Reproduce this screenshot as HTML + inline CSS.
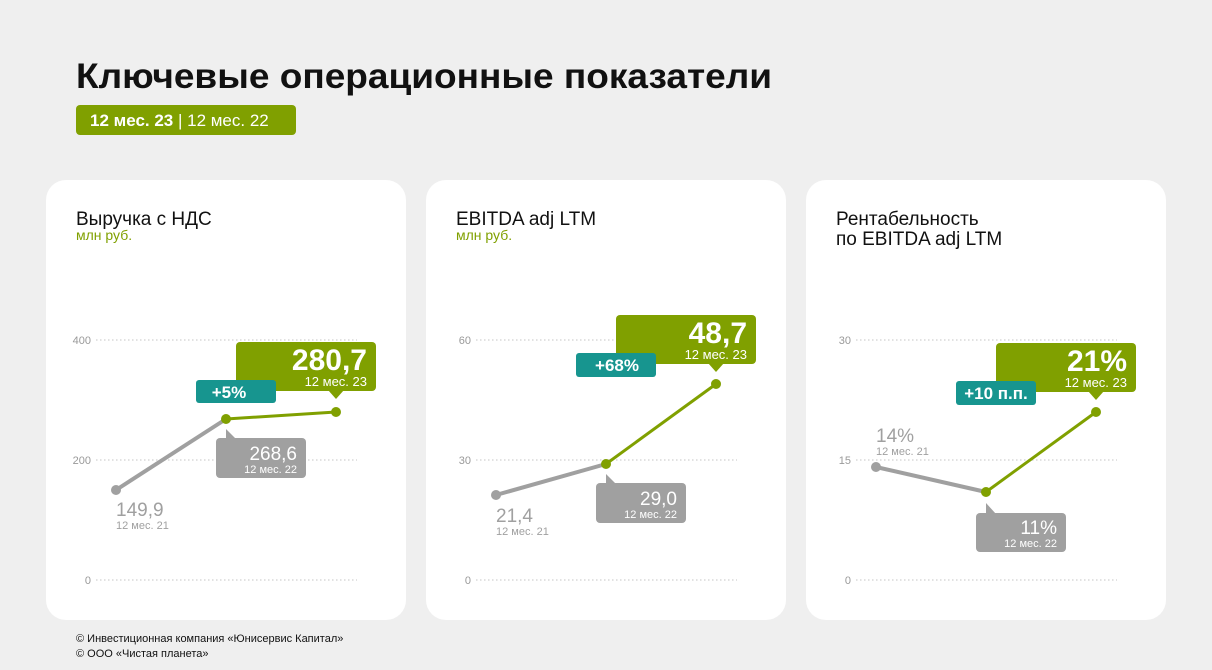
<!DOCTYPE html>
<html><head><meta charset="utf-8"><style>
body{margin:0;background:#efefef;}
svg{display:block;font-family:"Liberation Sans",sans-serif;}
</style></head><body>
<svg width="1212" height="670" viewBox="0 0 1212 670">
<rect width="1212" height="670" fill="#efefef"/>
<text x="76" y="88" font-size="35" font-weight="bold" fill="#111" textLength="696" lengthAdjust="spacingAndGlyphs">Ключевые операционные показатели</text>
<rect x="76" y="105" width="220" height="30" rx="4" fill="#80a000"/>
<text x="90" y="126" font-size="17" fill="#fff"><tspan font-weight="bold">12 мес. 23</tspan> | 12 мес. 22</text>

<rect x="46" y="180" width="360" height="440" rx="20" fill="#fff"/>
<rect x="426" y="180" width="360" height="440" rx="20" fill="#fff"/>
<rect x="806" y="180" width="360" height="440" rx="20" fill="#fff"/>

<g stroke="#d8d8d8" stroke-width="1.5" stroke-dasharray="1.5 2.5">
<line x1="96" y1="340" x2="357" y2="340"/><line x1="96" y1="460" x2="357" y2="460"/><line x1="96" y1="580" x2="357" y2="580"/>
<line x1="476" y1="340" x2="737" y2="340"/><line x1="476" y1="460" x2="737" y2="460"/><line x1="476" y1="580" x2="737" y2="580"/>
<line x1="856" y1="340" x2="1117" y2="340"/><line x1="856" y1="460" x2="1117" y2="460"/><line x1="856" y1="580" x2="1117" y2="580"/>
</g>
<g font-size="11" fill="#999" text-anchor="end">
<text x="91" y="344">400</text><text x="91" y="464">200</text><text x="91" y="584">0</text>
<text x="471" y="344">60</text><text x="471" y="464">30</text><text x="471" y="584">0</text>
<text x="851" y="344">30</text><text x="851" y="464">15</text><text x="851" y="584">0</text>
</g>

<g font-size="19" fill="#111">
<text x="76" y="225">Выручка с НДС</text>
<text x="456" y="225">EBITDA adj LTM</text>
<text x="836" y="225">Рентабельность</text>
<text x="836" y="245">по EBITDA adj LTM</text>
</g>
<g font-size="14" fill="#80a000">
<text x="76" y="240">млн руб.</text>
<text x="456" y="240">млн руб.</text>
</g>

<!-- Panel 1 -->
<line x1="116" y1="490" x2="226" y2="419" stroke="#a0a0a0" stroke-width="4"/>
<line x1="226" y1="419" x2="336" y2="412" stroke="#80a000" stroke-width="3"/>
<circle cx="116" cy="490" r="5" fill="#a0a0a0"/>
<circle cx="226" cy="419" r="5" fill="#80a000"/><circle cx="336" cy="412" r="5" fill="#80a000"/>
<rect x="236" y="342" width="140" height="49" rx="4" fill="#80a000"/>
<polygon points="328,390 344,390 336,399" fill="#80a000"/>
<text x="367" y="370" font-size="30" font-weight="bold" fill="#fff" text-anchor="end">280,7</text>
<text x="367" y="386" font-size="13" fill="#fff" text-anchor="end">12 мес. 23</text>
<rect x="196" y="380" width="80" height="23" rx="3" fill="#17958f"/>
<text x="229" y="398" font-size="17" font-weight="bold" fill="#fff" text-anchor="middle">+5%</text>
<rect x="216" y="438" width="90" height="40" rx="4" fill="#a0a0a0"/>
<polygon points="226,429 226,439 236,439" fill="#a0a0a0"/>
<text x="297" y="460" font-size="19" fill="#fff" text-anchor="end">268,6</text>
<text x="297" y="473" font-size="11" fill="#fff" text-anchor="end">12 мес. 22</text>
<text x="116" y="516" font-size="19" fill="#a0a0a0">149,9</text>
<text x="116" y="529" font-size="11" fill="#a0a0a0">12 мес. 21</text>

<!-- Panel 2 -->
<line x1="496" y1="495" x2="606" y2="464" stroke="#a0a0a0" stroke-width="4"/>
<line x1="606" y1="464" x2="716" y2="384" stroke="#80a000" stroke-width="3"/>
<circle cx="496" cy="495" r="5" fill="#a0a0a0"/>
<circle cx="606" cy="464" r="5" fill="#80a000"/><circle cx="716" cy="384" r="5" fill="#80a000"/>
<rect x="616" y="315" width="140" height="49" rx="4" fill="#80a000"/>
<polygon points="708,363 724,363 716,372" fill="#80a000"/>
<text x="747" y="343" font-size="30" font-weight="bold" fill="#fff" text-anchor="end">48,7</text>
<text x="747" y="359" font-size="13" fill="#fff" text-anchor="end">12 мес. 23</text>
<rect x="576" y="353" width="80" height="24" rx="3" fill="#17958f"/>
<text x="617" y="371" font-size="17" font-weight="bold" fill="#fff" text-anchor="middle">+68%</text>
<rect x="596" y="483" width="90" height="40" rx="4" fill="#a0a0a0"/>
<polygon points="606,474 606,484 616,484" fill="#a0a0a0"/>
<text x="677" y="505" font-size="19" fill="#fff" text-anchor="end">29,0</text>
<text x="677" y="518" font-size="11" fill="#fff" text-anchor="end">12 мес. 22</text>
<text x="496" y="522" font-size="19" fill="#a0a0a0">21,4</text>
<text x="496" y="535" font-size="11" fill="#a0a0a0">12 мес. 21</text>

<!-- Panel 3 -->
<line x1="876" y1="467" x2="986" y2="492" stroke="#a0a0a0" stroke-width="4"/>
<line x1="986" y1="492" x2="1096" y2="412" stroke="#80a000" stroke-width="3"/>
<circle cx="876" cy="467" r="5" fill="#a0a0a0"/>
<circle cx="986" cy="492" r="5" fill="#80a000"/><circle cx="1096" cy="412" r="5" fill="#80a000"/>
<rect x="996" y="343" width="140" height="49" rx="4" fill="#80a000"/>
<polygon points="1088,391 1104,391 1096,400" fill="#80a000"/>
<text x="1127" y="371" font-size="30" font-weight="bold" fill="#fff" text-anchor="end">21%</text>
<text x="1127" y="387" font-size="13" fill="#fff" text-anchor="end">12 мес. 23</text>
<rect x="956" y="381" width="80" height="24" rx="3" fill="#17958f"/>
<text x="996" y="399" font-size="17" font-weight="bold" fill="#fff" text-anchor="middle">+10 п.п.</text>
<rect x="976" y="513" width="90" height="39" rx="4" fill="#a0a0a0"/>
<polygon points="986,503 986,514 996,514" fill="#a0a0a0"/>
<text x="1057" y="534" font-size="19" fill="#fff" text-anchor="end">11%</text>
<text x="1057" y="547" font-size="11" fill="#fff" text-anchor="end">12 мес. 22</text>
<text x="876" y="442" font-size="19" fill="#a0a0a0">14%</text>
<text x="876" y="455" font-size="11" fill="#a0a0a0">12 мес. 21</text>

<g font-size="11" fill="#111">
<text x="76" y="642">© Инвестиционная компания «Юнисервис Капитал»</text>
<text x="76" y="657">© ООО «Чистая планета»</text>
</g>
</svg>
</body></html>
